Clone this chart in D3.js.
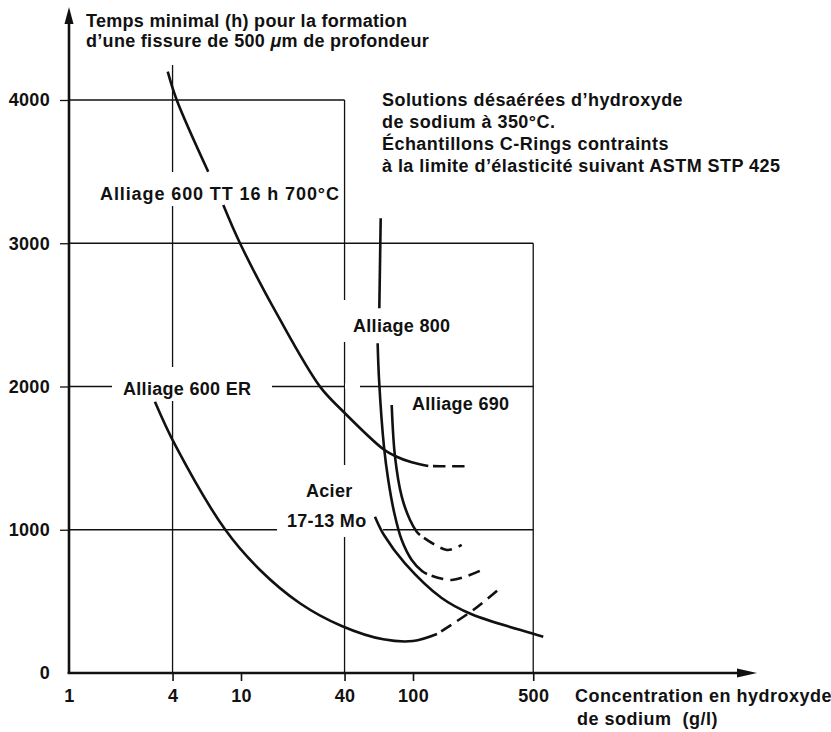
<!DOCTYPE html>
<html><head><meta charset="utf-8">
<script src="https://cdn.jsdelivr.net/npm/d3@7"></script>
<style>
body{margin:0;background:#fff}
svg text{font-family:"Liberation Sans",Arial,Helvetica,sans-serif;font-weight:bold;fill:#111;font-size:18px;letter-spacing:0.3px}
</style>
</head><body>
<svg id="c" width="831" height="732"></svg>
<script>
// ---- data ----
const xTickValues = [1, 4, 10, 40, 100, 500];
const xTickLabels = ["1", "4", "10", "40", "100", "500"];
const yTickValues = [0, 1000, 2000, 3000, 4000];
const yTickLabels = ["0", "1000", "2000", "3000", "4000"];

// grid frame (concentration g/l, hours)
const hGridY = [4000, 3000, 2000, 1000];
const hGridEnd = [40, 500, 500, 500];
const vGridX = [4, 40, 500];
const vGridTop = [4244, 4000, 3000];

// Alliage 600 TT 16 h 700°C
const tt600TopX = [3.75, 4.23, 6.45];
const tt600TopY = [4198, 4000, 3499];
const tt600X = [7.89, 9.87, 16.5, 28.8, 38.5, 67, 78.6, 98.3, 122.7];
const tt600Y = [3267, 3000, 2487, 1999, 1836, 1564, 1515, 1471, 1445];
const tt600DashX = [122.7, 160, 209.6];
const tt600DashY = [1445, 1443, 1443];

// Alliage 800
const a800TopX = [64.9, 63.7];
const a800TopY = [3174, 2546];
const a800X = [62.3, 63.5, 67.8, 71.8, 77.9, 86.0, 98.3, 112.8, 120.6];
const a800Y = [2302, 2045, 1580, 1347, 1115, 928, 789, 712, 691];
const a800DashX = [120.6, 167.9, 250.8];
const a800DashY = [691, 649, 719];

// Alliage 690
const a690X = [75.2, 78.6, 86.0, 96.1, 105.1, 109.8];
const a690Y = [1871, 1510, 1231, 1068, 986, 963];
const a690DashX = [109.8, 157.7, 191.9];
const a690DashY = [963, 859, 894];

// Alliage 600 ER
const er600X = [3.16, 4.14, 8.07, 12.9, 22.0, 38.5, 67.2, 100, 137.9];
const er600Y = [1894, 1592, 1003, 719, 487, 328, 235, 223, 272];
const er600DashX = [137.9, 224, 328];
const er600DashY = [272, 440, 602];

// Acier 17-13 Mo
const acierX = [60.1, 67.8, 89.8, 146.8, 219.4, 490, 572];
const acierY = [1091, 963, 766, 524, 410, 277, 253];

// ---- drawing ----
const svg = d3.select("#c");
const x = d3.scaleLog().domain([1, 1000]).range([69, 585]);
const y = d3.scaleLinear().domain([0, 4000]).range([673, 100]);
const ink = "#111";

const gGrid = svg.append("g").attr("stroke", ink).attr("stroke-width", 1.3).attr("fill", "none");
hGridY.forEach((v, i) => {
  gGrid.append("line").attr("x1", x(1)).attr("x2", x(hGridEnd[i])).attr("y1", y(v)).attr("y2", y(v));
});
vGridX.forEach((v, i) => {
  gGrid.append("line").attr("x1", x(v)).attr("x2", x(v)).attr("y1", y(vGridTop[i])).attr("y2", y(0));
});

// white gaps behind labels
const gaps = [
  [95, 172, 243, 34],   // Alliage 600 TT label
  [112, 367, 160, 34],  // Alliage 600 ER label
  [338, 300, 118, 42],  // Alliage 800 label
  [277, 465, 106, 72],  // Acier label
  [345, 383, 15, 6]     // small break in the 2000 line
];
svg.append("g").selectAll("rect").data(gaps).join("rect")
  .attr("x", d => d[0]).attr("y", d => d[1]).attr("width", d => d[2]).attr("height", d => d[3])
  .attr("fill", "#fff");

// axes with ticks
const xAxis = d3.axisBottom(x).tickValues(xTickValues)
  .tickFormat((d, i) => xTickLabels[i]).tickSizeInner(8).tickSizeOuter(0).tickPadding(8);
const gx = svg.append("g").attr("transform", `translate(0,${y(0)})`).call(xAxis);
gx.select(".domain").remove();
gx.selectAll(".tick line").attr("stroke", ink).attr("stroke-width", 1.6)
  .attr("opacity", d => d === 1 ? 0 : 1);
gx.selectAll(".tick text").attr("fill", ink).style("font-size", "18px");
gx.attr("font-family", null).attr("font-size", null);

const yAxis = d3.axisLeft(y).tickValues(yTickValues)
  .tickFormat((d, i) => yTickLabels[i]).tickSizeInner(9).tickSizeOuter(0).tickPadding(10);
const gy = svg.append("g").attr("transform", `translate(${x(1)},0)`).call(yAxis);
gy.select(".domain").remove();
gy.selectAll(".tick line").attr("stroke", ink).attr("stroke-width", 1.3)
  .attr("opacity", d => d === 0 ? 0 : 1);
gy.selectAll(".tick text").attr("fill", ink).style("font-size", "18px");
gy.attr("font-family", null).attr("font-size", null);

// main axis lines with arrows
const ax = svg.append("g");
ax.append("line").attr("x1", x(1)).attr("x2", x(1)).attr("y1", y(0) + 1).attr("y2", 18)
  .attr("stroke", ink).attr("stroke-width", 2.6);
ax.append("path").attr("d", `M${x(1)},7 L${x(1) - 4.5},24 L${x(1) + 4.5},24 Z`).attr("fill", ink);
ax.append("line").attr("x1", x(1) - 1.3).attr("x2", 745).attr("y1", y(0)).attr("y2", y(0))
  .attr("stroke", ink).attr("stroke-width", 2.6);
ax.append("path").attr("d", `M757,${y(0)} L737,${y(0) - 4.5} L737,${y(0) + 4.5} Z`).attr("fill", ink);

// curves
const line = d3.line().x(d => x(d[0])).y(d => y(d[1])).curve(d3.curveCatmullRom.alpha(0.5));
const zip = (a, b) => a.map((v, i) => [v, b[i]]);
const solid = [
  zip(tt600TopX, tt600TopY), zip(tt600X, tt600Y),
  zip(a800TopX, a800TopY), zip(a800X, a800Y),
  zip(a690X, a690Y), zip(er600X, er600Y), zip(acierX, acierY)
];
const dashed = [
  zip(tt600DashX, tt600DashY), zip(a800DashX, a800DashY),
  zip(a690DashX, a690DashY), zip(er600DashX, er600DashY)
];
const gc = svg.append("g").attr("fill", "none").attr("stroke", ink).attr("stroke-width", 2.6)
  .attr("stroke-linecap", "butt");
gc.selectAll("path.s").data(solid).join("path").attr("class", "s").attr("d", line);
gc.selectAll("path.d").data(dashed).join("path").attr("class", "d").attr("d", line)
  .attr("stroke-dasharray", "12 7").attr("stroke-dashoffset", 14);

// texts
function txt(xp, yp, s) {
  return svg.append("text").attr("x", xp).attr("y", yp).text(s);
}
txt(86, 27, "Temps minimal (h) pour la formation");
const t2 = svg.append("text").attr("x", 86).attr("y", 47);
t2.append("tspan").text("d’une fissure de 500 ");
t2.append("tspan").style("font-style", "italic").text("μ");
t2.append("tspan").text("m de profondeur");

txt(382, 106, "Solutions désaérées d’hydroxyde").style("letter-spacing", "0.45px");
txt(382, 128, "de sodium à 350°C.").style("letter-spacing", "0.45px");
txt(382, 150, "Échantillons C-Rings contraints").style("letter-spacing", "0.45px");
txt(382, 172, "à la limite d’élasticité suivant ASTM STP 425").style("letter-spacing", "0.45px");

txt(100, 200, "Alliage 600 TT 16 h 700°C").style("letter-spacing", "0.9px");
txt(353, 332, "Alliage 800");
txt(412, 410, "Alliage 690");
txt(123, 395, "Alliage 600 ER");
txt(306, 497, "Acier");
txt(287, 527, "17-13 Mo");

txt(575, 702, "Concentration en hydroxyde").style("letter-spacing", "0.5px");
txt(577, 725, "de sodium  (g/l)").style("white-space", "pre").style("letter-spacing", "0.5px");
</script>
</body></html>
